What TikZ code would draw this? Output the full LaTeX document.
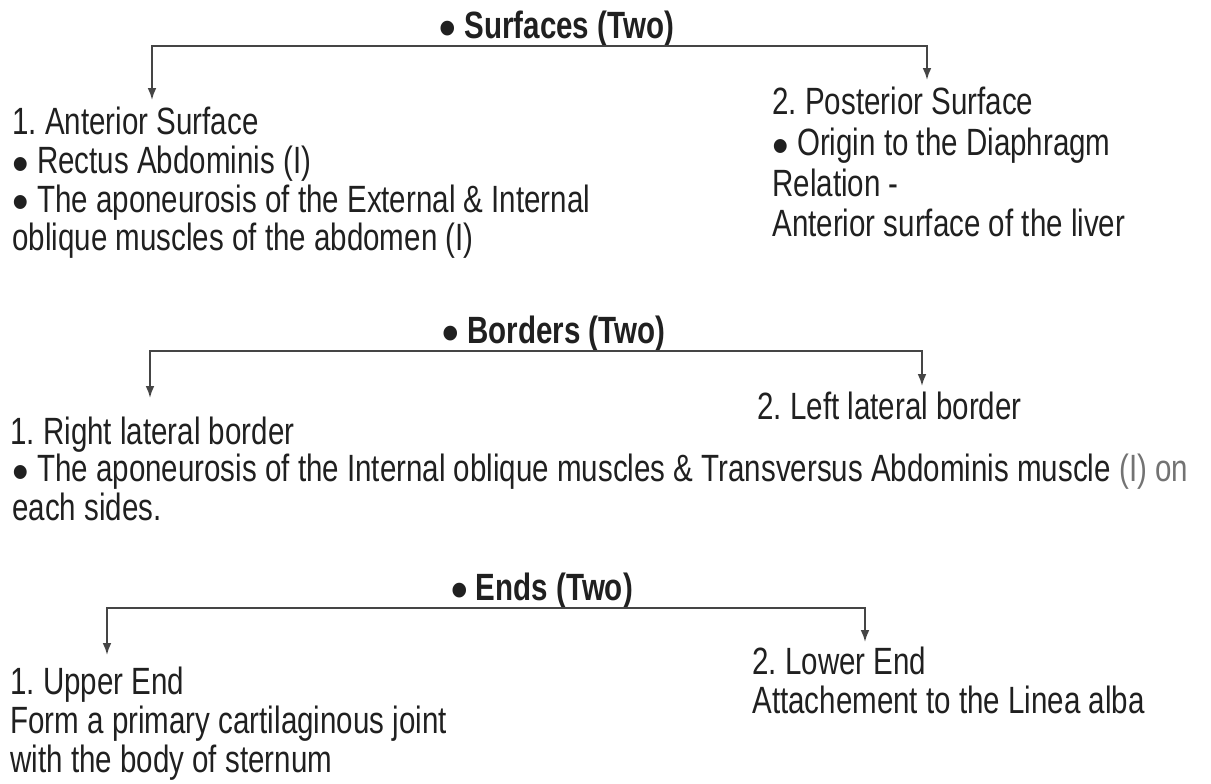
\documentclass[tikz,border=0pt]{standalone}
\usepackage{fontspec}
\setmainfont{Liberation Sans}[FakeStretch=0.777]
\usetikzlibrary{arrows.meta, positioning}
\definecolor{cTEXT}{HTML}{202020}
\definecolor{cLINE}{HTML}{454545}
\newcommand{\bul}{\raisebox{-0.2em}{\scalebox{1.6}[1.35]{\textbullet}}\ }

\begin{document}
\frenchspacing
\begin{tikzpicture}[
  x=0.5pt, y=-0.5pt,
  font=\fontsize{19}{19.3}\selectfont,
  every node/.style={inner sep=0pt, text=cTEXT},
  head/.style={font=\fontsize{19}{19.3}\selectfont\bfseries, anchor=base},
  item/.style={align=left, anchor=north west},
  arr/.style={-{Latex[length=6pt, width=4.4pt]}, line width=0.9pt, draw=cLINE}
]
\useasboundingbox (0,0) rectangle (1211,783);

% surfaces
\node[head] (surf) at (557,38) {\bul Surfaces (Two)};
\node[item] (ant) at (12,107) {1. Anterior Surface\\
  \bul Rectus Abdominis (I)\\
  \bul The aponeurosis of the External \& Internal\\
  oblique muscles of the abdomen (I)};
\node[item, font=\fontsize{19}{20.3}\selectfont] (post) at (772,87) {2. Posterior Surface\\
  \bul Origin to the Diaphragm\\
  Relation -\\
  Anterior surface of the liver};
\coordinate (antTip)  at (152,100);
\coordinate (postTip) at (927,80);
\draw[arr] (surf.south) -| (antTip);
\draw[arr] (surf.south) -| (postTip);

% borders
\node[head] (bord) at (554,343) {\bul Borders (Two)};
\node[item] (rlb) at (10,417) {1. Right lateral border};
\node[item] (llb) at (757,392) {2. Left lateral border};
\node[item] (apo) at (12,454) {\bul The aponeurosis of the Internal oblique muscles \& Transversus Abdominis muscle {\color{black!55}(I) on}\\
  each sides.};
\coordinate (rlbTip) at (150,398);
\coordinate (llbTip) at (922,386);
\draw[arr] (bord.south) -| (rlbTip);
\draw[arr] (bord.south) -| (llbTip);

% ends
\node[head] (ends) at (542,600) {\bul Ends (Two)};
\node[item] (upper) at (10,667) {1. Upper End\\
  Form a primary cartilaginous joint\\
  with the body of sternum};
\node[item] (lower) at (752,647) {2. Lower End\\
  Attachement to the Linea alba};
\coordinate (upperTip) at (107,655);
\coordinate (lowerTip) at (865,642);
\draw[arr] (ends.south) -| (upperTip);
\draw[arr] (ends.south) -| (lowerTip);
\end{tikzpicture}
\end{document}
